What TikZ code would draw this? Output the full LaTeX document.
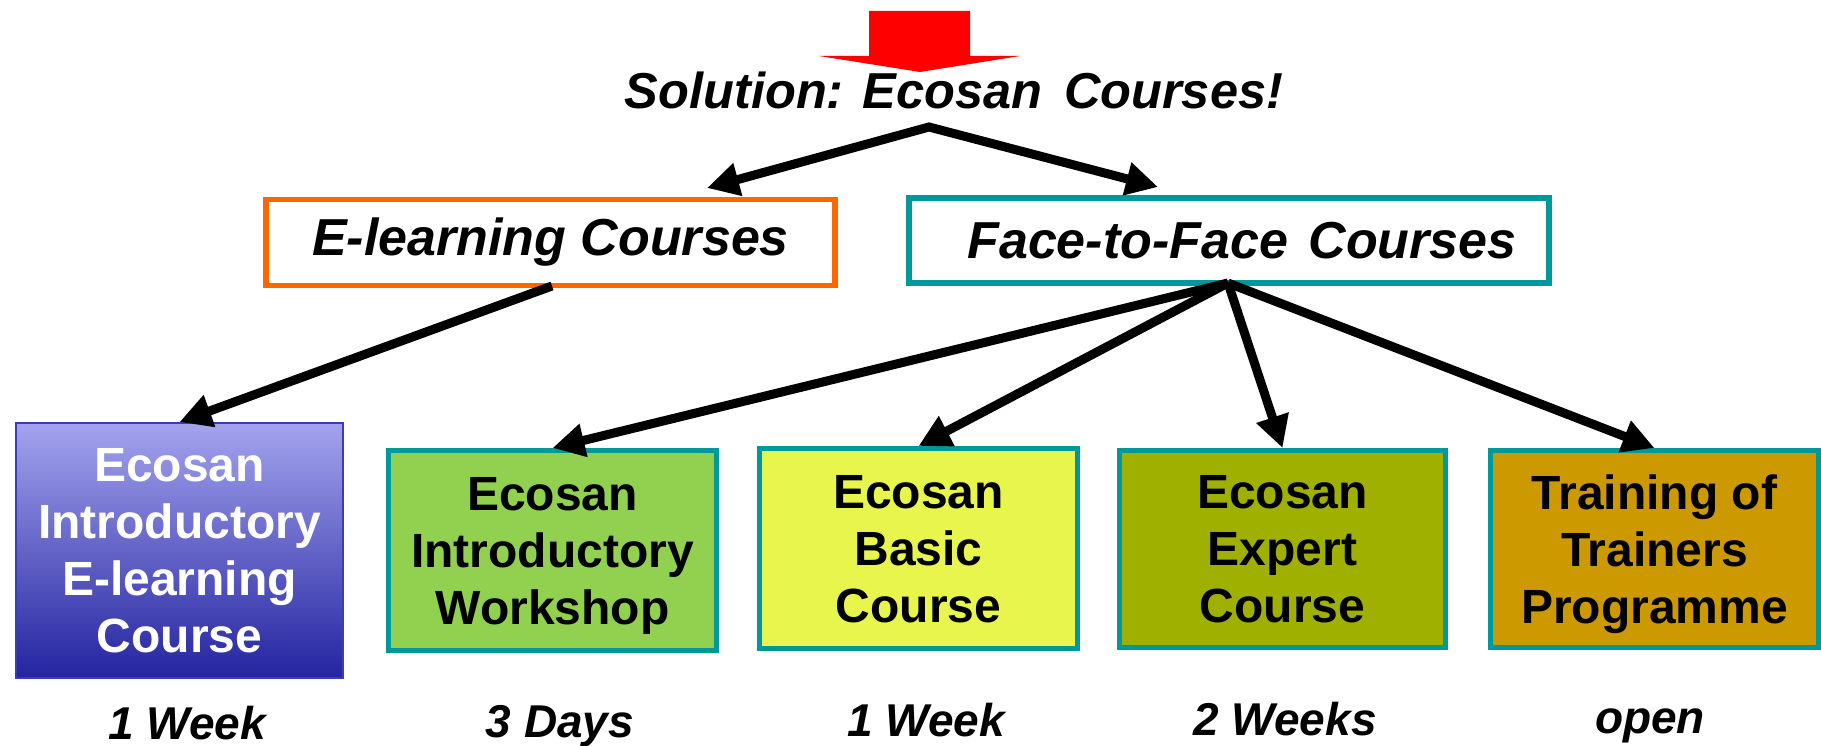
\documentclass[tikz,border=0pt]{standalone}
\usepackage{fontspec}
\setmainfont{Liberation Sans}
\usetikzlibrary{arrows.meta}
\definecolor{orangeC}{HTML}{FF6600}
\definecolor{tealC}{HTML}{009999}
\definecolor{greenC}{HTML}{92D050}
\definecolor{yellowC}{HTML}{E8F54C}
\definecolor{oliveC}{HTML}{A0B000}
\definecolor{goldC}{HTML}{CC9900}
\definecolor{redC}{HTML}{FF0000}
\definecolor{lavTop}{HTML}{A3A3EE}
\definecolor{lavMid}{HTML}{8484D8}
\definecolor{lavBot}{HTML}{2424A0}
\definecolor{lavLine}{HTML}{3C3CB4}
\newcommand{\bxfont}{\fontsize{48}{57}\selectfont\bfseries}
\newcommand{\hdfont}{\fontsize{52}{60}\selectfont\bfseries\itshape}
\newcommand{\lbfont}{\fontsize{46}{55}\selectfont\bfseries\itshape}
\newcommand{\ttfont}{\fontsize{50.5}{58}\selectfont\bfseries\itshape}
\begin{document}
\begin{tikzpicture}[x=1pt,y=-1pt,
  box/.style={draw=tealC,line width=5pt,inner sep=0pt,align=center,font=\bxfont},
  head/.style={line width=5.5pt,inner sep=0pt,fill=white,font=\hdfont},
  lbl/.style={anchor=base,inner sep=0pt,font=\lbfont},
  arr/.style={line width=9pt,line cap=butt,line join=miter,-{Triangle[length=32pt,width=32pt]}}]
\useasboundingbox (0,0) rectangle (1821,746);

% red arrow
\fill[redC] (869,11) -- (970,11) -- (970,56) -- (1020,56) -- (920,72) -- (819,56) -- (869,56) -- cycle;

% title
\node[anchor=base,inner sep=0pt,font=\ttfont] (title) at (954,109) {Solution: Ecosan\hspace{8pt} Courses!};

% top-level boxes
\node[head,draw=orangeC,minimum width=569pt,minimum height=85.5pt] (el) at (550.5,242.5) {E-learning Courses};
\node[head,draw=tealC,minimum width=640pt,minimum height=85pt] (f2f) at (1229,240.5) {\hspace*{26pt}Face-to-Face\hspace{6pt} Courses};

% course boxes
\node[box,draw=lavLine,line width=2pt,top color=lavTop,middle color=lavMid,bottom color=lavBot,text=white,
      minimum width=327pt,minimum height=255pt] (ie) at (179.5,550.5)
      {Ecosan\\Introductory\\E-learning\\\smash{Course}};
\node[box,fill=greenC,minimum width=328pt,minimum height=200pt] (ws) at (552.5,550.5)
      {Ecosan\\Introductory\\\smash{Workshop}};
\node[box,fill=yellowC,minimum width=318pt,minimum height=200pt] (bc) at (918.5,548.5)
      {Ecosan\\Basic\\\smash{Course}};
\node[box,fill=oliveC,minimum width=326pt,minimum height=197pt] (ec) at (1282.5,549)
      {Ecosan\\Expert\\\smash{Course}};
\node[box,fill=goldC,minimum width=328pt,minimum height=197pt] (tt) at (1654.5,549)
      {Training of\\Trainers\\\smash{Programme}};

% durations
\node[lbl] (d1) at (187,739) {1 Week};
\node[lbl] (d2) at (560,737) {3 Days};
\node[lbl] (d3) at (926,736) {1 Week};
\node[lbl] (d4) at (1285,735) {2 Weeks};
\node[lbl] (d5) at (1650,733) {open};

% connectors
\coordinate (apex) at (929,127);
\coordinate (t1) at (707,188);
\coordinate (t2) at (1158,187);
\draw[arr,{Triangle[length=32pt,width=32pt]}-{Triangle[length=32pt,width=32pt]}] (t1) -- (apex) -- (t2);

\draw[arr] (el.south) ++(1.5,-2) -- (ie.north);
\coordinate (fo) at (1228,283);
\draw[arr] (fo) -- (ws.north);
\draw[arr] (fo) -- (bc.north);
\draw[arr] (fo) -- (ec.north);
\draw[arr] (fo) -- (tt.north);
\end{tikzpicture}
\end{document}
